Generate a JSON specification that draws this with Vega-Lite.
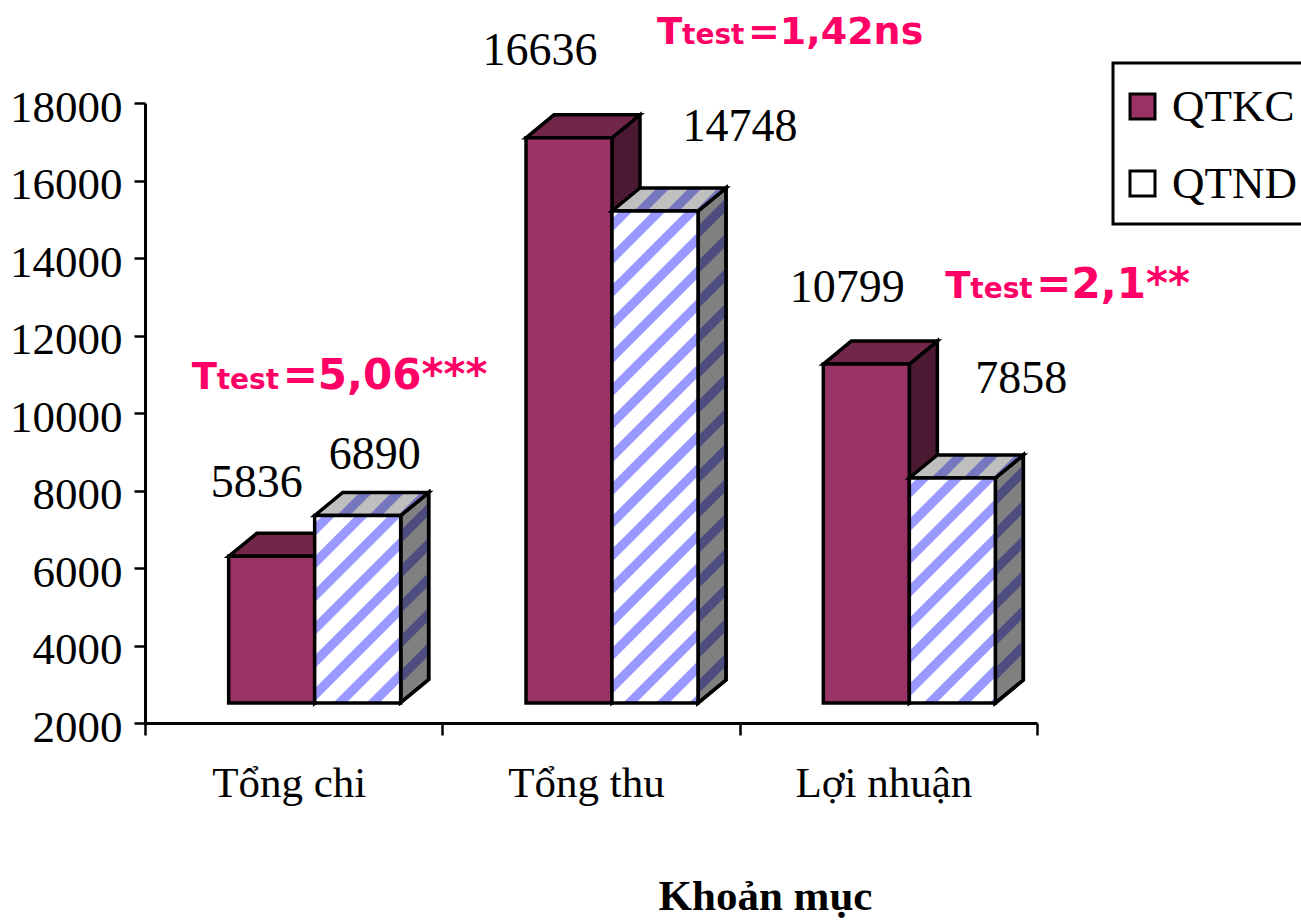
{
"$schema":"https://vega.github.io/schema/vega-lite/v6.json",
"width":892,"height":620,
"autosize":{"type":"none"},
"padding":{"left":145,"top":103,"right":264,"bottom":198},
"background":"white",
"config":{"view":{"stroke":null},"text":{"font":"Liberation Serif"}},
"data":{"values":[
{"category":"Tổng chi","series":"QTKC","value":5836,"ttest":"=5,06***"},
{"category":"Tổng chi","series":"QTND","value":6890},
{"category":"Tổng thu","series":"QTKC","value":16636,"ttest":"=1,42ns"},
{"category":"Tổng thu","series":"QTND","value":14748},
{"category":"Lợi nhuận","series":"QTKC","value":10799,"ttest":"=2,1**"},
{"category":"Lợi nhuận","series":"QTND","value":7858}
]},
"encoding":{
"x":{"field":"category","type":"nominal","sort":["Tổng chi","Tổng thu","Lợi nhuận"],
"scale":{"paddingInner":0,"paddingOuter":0},
"axis":{"title":"Khoản mục","labelAngle":0,"tickBand":"extent","domainColor":"black","domainWidth":3,"tickColor":"black","tickWidth":2.5,"tickSize":12,"labelFont":"Liberation Serif","labelFontSize":43,"labelColor":"black","labelPadding":27,"labelOffset":-5,"titleFont":"Liberation Serif","titleFontSize":43,"titleFontWeight":"bold","titleColor":"black","titleX":620,"titleY":186,"titleBaseline":"alphabetic","titleAnchor":"middle","titleAlign":"center"}},
"y":{"field":"value","type":"quantitative","scale":{"domain":[2000,18000],"nice":false,"zero":false},
"axis":{"title":null,"values":[2000,4000,6000,8000,10000,12000,14000,16000,18000],"format":"d","grid":false,"domainColor":"black","domainWidth":3,"tickColor":"black","tickWidth":2.5,"tickSize":11,"labelFont":"Liberation Serif","labelFontSize":45,"labelColor":"black","labelPadding":12,"labelBaseline":"middle","labelOffset":4}}
},
"layer":[
{"transform":[{"filter":"datum.series==='QTKC'"}],
"mark":{"type":"point","filled":true,"opacity":1,"size":4,"fill":"#4c1933","stroke":"black","strokeWidth":3.5,"strokeJoin":"miter","xOffset":21,"yOffset":-18},
"encoding":{"shape":{"field":"category","type":"nominal","legend":null,"scale":{"domain":["Tổng chi","Tổng thu","Lợi nhuận"],"range":["M0,0L28,-23V124L0,147Z","M0,0L28,-23V542L0,565Z","M0,0L28,-23V316L0,339Z"]}}}},
{"transform":[{"filter":"datum.series==='QTKC'"}],
"mark":{"type":"point","filled":true,"opacity":1,"size":4,"fill":"#72264a","stroke":"black","strokeWidth":3.5,"strokeJoin":"miter","xOffset":-65,"yOffset":-18,"shape":"M0,0L28,-23H114L86,0Z"}},
{"transform":[{"filter":"datum.series==='QTKC'"}],
"mark":{"type":"bar","width":86,"stroke":"black","strokeWidth":3.5,"xOffset":-22,"yOffset":-18,"y2Offset":-20},
"encoding":{"y2":{"datum":2000},
"fill":{"field":"series","type":"nominal","scale":{"domain":["QTKC","QTND"],"range":["#993366","#ffffff"]},
"legend":{"title":" ","titleFontSize":1,"titlePadding":3,"orient":"none","legendX":968,"legendY":-40,"symbolType":"square","symbolSize":625,"symbolOffset":-10,"symbolOpacity":1,"labelFont":"Liberation Serif","labelFontSize":45,"labelColor":"black","labelOffset":7,"rowPadding":31,"padding":17,"strokeColor":"black","fillColor":"white","labelLimit":200,
"encoding":{"legend":{"strokeWidth":{"value":3}},"symbols":{"stroke":{"value":"black"},"strokeWidth":{"value":3},"fill":{"value":{"signal":"datum.value==='QTND' ? {gradient:'linear',x1:0,y1:1,x2:1,y2:0,stops:[{offset:0,color:'#ffffff'},{offset:0.3,color:'#ffffff'},{offset:0.3,color:'#9999ff'},{offset:0.62,color:'#9999ff'},{offset:0.62,color:'#ffffff'},{offset:1,color:'#ffffff'}]} : '#993366'"}}}}}}}},
{"transform":[{"filter":"datum.series==='QTND'"}],
"mark":{"type":"point","filled":true,"opacity":1,"size":4,"fill":"#808080","stroke":"black","strokeWidth":3.5,"strokeJoin":"miter","xOffset":107,"yOffset":-18},
"encoding":{"shape":{"field":"category","type":"nominal","legend":null,"scale":{"domain":["Tổng chi","Tổng thu","Lợi nhuận"],"range":["M0,0L28,-23V164L0,187Z","M0,0L28,-23V469L0,492Z","M0,0L28,-23V202L0,225Z"]}}}},
{"transform":[{"filter":"datum.series==='QTND'"}],
"mark":{"type":"point","filled":true,"opacity":1,"size":4,"fill":"#4d4d80","strokeWidth":0,"xOffset":107,"yOffset":-18},
"encoding":{"shape":{"field":"category","type":"nominal","legend":null,"scale":{"domain":["Tổng chi","Tổng thu","Lợi nhuận"],"range":[
"M0,15L0,28L28,0L28,-13ZM0,50L0,63L28,35L28,22ZM0,85L0,98L28,70L28,57ZM0,120L0,133L28,105L28,92ZM0,155L0,168L28,140L28,127Z",
"M0,15L0,28L28,0L28,-13ZM0,50L0,63L28,35L28,22ZM0,85L0,98L28,70L28,57ZM0,120L0,133L28,105L28,92ZM0,155L0,168L28,140L28,127ZM0,190L0,203L28,175L28,162ZM0,225L0,238L28,210L28,197ZM0,260L0,273L28,245L28,232ZM0,295L0,308L28,280L28,267ZM0,330L0,343L28,315L28,302ZM0,365L0,378L28,350L28,337ZM0,400L0,413L28,385L28,372ZM0,435L0,448L28,420L28,407ZM0,470L0,483L28,455L28,442Z",
"M0,15L0,28L28,0L28,-13ZM0,50L0,63L28,35L28,22ZM0,85L0,98L28,70L28,57ZM0,120L0,133L28,105L28,92ZM0,155L0,168L28,140L28,127ZM0,190L0,203L28,175L28,162Z"]}}}},
{"transform":[{"filter":"datum.series==='QTND'"}],
"mark":{"type":"point","filled":false,"opacity":1,"size":4,"stroke":"black","strokeWidth":3.5,"strokeJoin":"miter","xOffset":107,"yOffset":-18},
"encoding":{"shape":{"field":"category","type":"nominal","legend":null,"scale":{"domain":["Tổng chi","Tổng thu","Lợi nhuận"],"range":["M0,0L28,-23V164L0,187Z","M0,0L28,-23V469L0,492Z","M0,0L28,-23V202L0,225Z"]}}}},
{"transform":[{"filter":"datum.series==='QTND'"}],
"mark":{"type":"point","filled":true,"opacity":1,"size":4,"fill":"#bfbfbf","strokeWidth":0,"xOffset":21,"yOffset":-18,"shape":"M0,0L28,-23H114L86,0Z"}},
{"transform":[{"filter":"datum.series==='QTND'"}],
"mark":{"type":"point","filled":true,"opacity":1,"size":4,"fill":"#7777c0","strokeWidth":0,"xOffset":21,"yOffset":-18,"shape":"M22,0L35,0L58,-23L45,-23ZM54,0L67,0L90,-23L77,-23ZM83,0L86,0L114,-23L106,-23Z"}},
{"transform":[{"filter":"datum.series==='QTND'"}],
"mark":{"type":"point","filled":false,"opacity":1,"size":4,"stroke":"black","strokeWidth":3.5,"strokeJoin":"miter","xOffset":21,"yOffset":-18,"shape":"M0,0L28,-23H114L86,0Z"}},
{"transform":[{"filter":"datum.series==='QTND'"}],
"mark":{"type":"bar","width":86,"strokeWidth":0,"fill":"#ffffff","xOffset":64,"yOffset":-18,"y2Offset":-20},
"encoding":{"y2":{"datum":2000}}},
{"transform":[{"filter":"datum.series==='QTND'"}],
"mark":{"type":"point","filled":true,"opacity":1,"size":4,"fill":"#9999ff","strokeWidth":0,"xOffset":21,"yOffset":-18},
"encoding":{"shape":{"field":"category","type":"nominal","legend":null,"scale":{"domain":["Tổng chi","Tổng thu","Lợi nhuận"],"range":[
"M0,8L0,21L21,0L8,0ZM0,41L0,54L54,0L41,0ZM0,74L0,87L86,1L86,0L74,0ZM0,107L0,120L86,34L86,21ZM0,140L0,153L86,67L86,54ZM0,173L0,186L86,100L86,87ZM19,187L32,187L86,133L86,120ZM52,187L65,187L86,166L86,153Z",
"M0,8L0,21L21,0L8,0ZM0,41L0,54L54,0L41,0ZM0,74L0,87L86,1L86,0L74,0ZM0,107L0,120L86,34L86,21ZM0,140L0,153L86,67L86,54ZM0,173L0,186L86,100L86,87ZM0,206L0,219L86,133L86,120ZM0,239L0,252L86,166L86,153ZM0,272L0,285L86,199L86,186ZM0,305L0,318L86,232L86,219ZM0,338L0,351L86,265L86,252ZM0,371L0,384L86,298L86,285ZM0,404L0,417L86,331L86,318ZM0,437L0,450L86,364L86,351ZM0,470L0,483L86,397L86,384ZM11,492L24,492L86,430L86,417ZM44,492L57,492L86,463L86,450ZM77,492L86,492L86,483Z",
"M0,8L0,21L21,0L8,0ZM0,41L0,54L54,0L41,0ZM0,74L0,87L86,1L86,0L74,0ZM0,107L0,120L86,34L86,21ZM0,140L0,153L86,67L86,54ZM0,173L0,186L86,100L86,87ZM0,206L0,219L86,133L86,120ZM14,225L27,225L86,166L86,153ZM47,225L60,225L86,199L86,186ZM80,225L86,225L86,219Z"]}}}},
{"transform":[{"filter":"datum.series==='QTND'"}],
"mark":{"type":"bar","width":86,"fillOpacity":0,"stroke":"black","strokeWidth":3.5,"xOffset":64,"yOffset":-18,"y2Offset":-20},
"encoding":{"y2":{"datum":2000}}},
{"transform":[{"filter":"datum.value===5836"}],"mark":{"type":"text","fontSize":46,"align":"center","baseline":"alphabetic","dx":-37,"dy":-77},"encoding":{"text":{"field":"value","type":"quantitative","format":"d"}}},
{"transform":[{"filter":"datum.value===6890"}],"mark":{"type":"text","fontSize":46,"align":"center","baseline":"alphabetic","dx":81,"dy":-65},"encoding":{"text":{"field":"value","type":"quantitative","format":"d"}}},
{"transform":[{"filter":"datum.value===16636"}],"mark":{"type":"text","fontSize":46,"align":"center","baseline":"alphabetic","dx":-51,"dy":-91},"encoding":{"text":{"field":"value","type":"quantitative","format":"d"}}},
{"transform":[{"filter":"datum.value===14748"}],"mark":{"type":"text","fontSize":46,"align":"center","baseline":"alphabetic","dx":149,"dy":-88},"encoding":{"text":{"field":"value","type":"quantitative","format":"d"}}},
{"transform":[{"filter":"datum.value===10799"}],"mark":{"type":"text","fontSize":46,"align":"center","baseline":"alphabetic","dx":-41,"dy":-80},"encoding":{"text":{"field":"value","type":"quantitative","format":"d"}}},
{"transform":[{"filter":"datum.value===7858"}],"mark":{"type":"text","fontSize":46,"align":"center","baseline":"alphabetic","dx":133,"dy":-103},"encoding":{"text":{"field":"value","type":"quantitative","format":"d"}}},
{"transform":[{"filter":"datum.value===5836"}],"mark":{"type":"text","font":"DejaVu Sans","fontWeight":"bold","fontSize":37,"color":"#ff0066","align":"left","baseline":"alphabetic","dx":-102,"dy":-185,"text":"T"}},
{"transform":[{"filter":"datum.value===5836"}],"mark":{"type":"text","font":"DejaVu Sans","fontWeight":"bold","fontSize":28,"color":"#ff0066","align":"left","baseline":"alphabetic","dx":-77,"dy":-185,"text":"test"}},
{"transform":[{"filter":"datum.value===5836"}],"mark":{"type":"text","font":"DejaVu Sans","fontWeight":"bold","fontSize":42,"color":"#ff0066","align":"left","baseline":"alphabetic","dx":-11,"dy":-185},"encoding":{"text":{"field":"ttest"}}},
{"transform":[{"filter":"datum.value===16636"}],"mark":{"type":"text","font":"DejaVu Sans","fontWeight":"bold","fontSize":37,"color":"#ff0066","align":"left","baseline":"alphabetic","dx":66,"dy":-112,"text":"T"}},
{"transform":[{"filter":"datum.value===16636"}],"mark":{"type":"text","font":"DejaVu Sans","fontWeight":"bold","fontSize":28,"color":"#ff0066","align":"left","baseline":"alphabetic","dx":91,"dy":-112,"text":"test"}},
{"transform":[{"filter":"datum.value===16636"}],"mark":{"type":"text","font":"DejaVu Sans","fontWeight":"bold","fontSize":38,"color":"#ff0066","align":"left","baseline":"alphabetic","dx":157,"dy":-112},"encoding":{"text":{"field":"ttest"}}},
{"transform":[{"filter":"datum.value===10799"}],"mark":{"type":"text","font":"DejaVu Sans","fontWeight":"bold","fontSize":37,"color":"#ff0066","align":"left","baseline":"alphabetic","dx":57,"dy":-84,"text":"T"}},
{"transform":[{"filter":"datum.value===10799"}],"mark":{"type":"text","font":"DejaVu Sans","fontWeight":"bold","fontSize":28,"color":"#ff0066","align":"left","baseline":"alphabetic","dx":82,"dy":-84,"text":"test"}},
{"transform":[{"filter":"datum.value===10799"}],"mark":{"type":"text","font":"DejaVu Sans","fontWeight":"bold","fontSize":42,"color":"#ff0066","align":"left","baseline":"alphabetic","dx":148,"dy":-84},"encoding":{"text":{"field":"ttest"}}}
],
"resolve":{"scale":{"shape":"independent"}}
}
